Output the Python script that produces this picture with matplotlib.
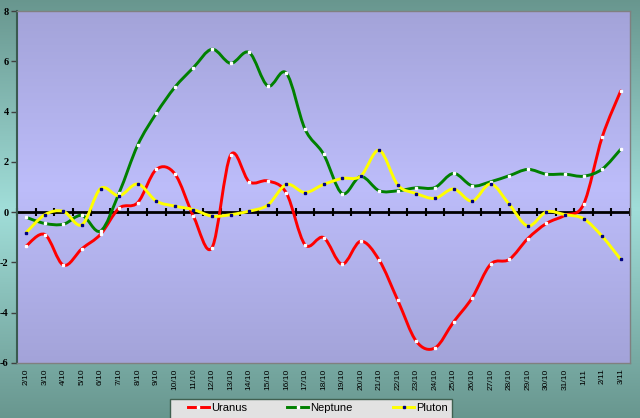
import matplotlib
matplotlib.use("Agg")
import matplotlib.pyplot as plt
import numpy as np
from matplotlib.path import Path
from matplotlib.patches import PathPatch, Rectangle
from matplotlib.lines import Line2D

dates = [f"{d}/10" for d in range(2, 32)] + ["1/11", "2/11", "3/11"]

uranus = [-1.34, -0.89, -2.11, -1.45, -0.88, 0.16, 0.38, 1.70, 1.52, -0.17,
          -1.41, 2.27, 1.21, 1.24, 0.76, -1.29, -1.01, -2.07, -1.16, -1.91,
          -3.51, -5.14, -5.40, -4.37, -3.41, -2.07, -1.88, -1.05, -0.45, -0.13,
          0.31, 2.98, 4.82]
neptune = [-0.21, -0.45, -0.48, -0.13, -0.75, 0.77, 2.67, 3.93, 4.97, 5.75,
           6.48, 5.92, 6.35, 5.02, 5.53, 3.31, 2.31, 0.74, 1.42, 0.85,
           0.85, 0.97, 0.98, 1.54, 1.05, 1.21, 1.45, 1.70, 1.51, 1.51,
           1.43, 1.71, 2.50]
pluton = [-0.81, -0.10, 0.03, -0.50, 0.94, 0.65, 1.12, 0.44, 0.24, 0.10,
          -0.16, -0.10, 0.04, 0.28, 1.10, 0.78, 1.10, 1.34, 1.43, 2.46,
          1.08, 0.74, 0.55, 0.92, 0.44, 1.12, 0.31, -0.55, 0.01, -0.10,
          -0.26, -0.96, -1.88]

series = [("Uranus", uranus, "#ff0000", "white"),
          ("Neptune", neptune, "#008000", "white"),
          ("Pluton", pluton, "#ffff00", "#000080")]


def smooth_path(xs, ys):
    # excel style smoothed line: bezier with catmull-rom control points
    pts = np.column_stack([xs, ys]).astype(float)
    n = len(pts)
    verts = [pts[0]]
    codes = [Path.MOVETO]
    for i in range(n - 1):
        p0 = pts[max(i - 1, 0)]
        p1 = pts[i]
        p2 = pts[i + 1]
        p3 = pts[min(i + 2, n - 1)]
        c1 = p1 + (p2 - p0) / 6.0
        c2 = p2 - (p3 - p1) / 6.0
        verts += [c1, c2, p2]
        codes += [Path.CURVE4] * 3
    return Path(verts, codes)


fig = plt.figure(figsize=(6.4, 4.18), dpi=100)

# background gradients
dark = np.array([0.41, 0.59, 0.56])
light = np.array([0.63, 0.87, 0.85])
t = np.abs(np.linspace(-1, 1, 200))[:, None]
bg = dark * t[..., None] + light * (1 - t[..., None])
ax_bg = fig.add_axes([0, 0, 1, 1], zorder=-2)
ax_bg.imshow(bg, aspect="auto", extent=[0, 1, 0, 1])
ax_bg.axis("off")

ax = fig.add_axes([17 / 640, 1 - 363 / 418, 613 / 640, 352 / 418])
pdark = np.array([0.64, 0.64, 0.85])
plight = np.array([0.74, 0.74, 0.98])
pg = pdark * t[..., None] + plight * (1 - t[..., None])
ax.imshow(pg, aspect="auto", extent=[0, 1, 0, 1], transform=ax.transAxes, zorder=0)

x = np.arange(len(dates))
ax.set_xlim(-0.5, len(dates) - 0.5)
ax.set_ylim(-6, 8)

# zero axis with crossing ticks at category boundaries
ax.axhline(0, color="black", lw=2, zorder=2)
bounds = np.arange(len(dates) + 1) - 0.5
ax.plot(bounds, np.zeros_like(bounds), ls="none", marker="|", ms=5.5, mew=1.5,
        color="black", zorder=2, clip_on=False)

handles = []
for name, vals, col, mcol in series:
    patch = PathPatch(smooth_path(x, vals), facecolor="none", edgecolor=col,
                      lw=2.1, capstyle="round", joinstyle="round", zorder=3)
    ax.add_patch(patch)
    ax.plot(x, vals, ls="none", marker="s", ms=2.1, mfc=mcol, mec=mcol, zorder=4)
    handles.append(Line2D([], [], color=col, lw=2.1, marker="s", ms=2.1,
                          mfc=mcol, mec=mcol))

ax.set_xticks(x)
ax.set_xticklabels(dates, rotation=90, fontsize=6, family="Liberation Sans")
ax.tick_params(axis="x", length=0, pad=4)
ax.set_yticks(np.arange(-6, 9, 2))
ax.set_yticklabels([str(v) for v in range(-6, 9, 2)], fontsize=7.5,
                   family="Liberation Serif", fontweight="bold")
ax.tick_params(axis="y", length=4, width=1, color="#404040", pad=2)

for s in ["top", "right", "bottom"]:
    ax.spines[s].set_color("#808080")
    ax.spines[s].set_linewidth(1)
ax.spines["left"].set_color("#3a5a50")
ax.spines["left"].set_linewidth(1.5)

# legend box, cut off by the figure bottom
fig.patches.append(Rectangle((170 / 640, -0.05), 282 / 640, 0.05 + 19 / 418,
                             transform=fig.transFigure, facecolor="#e2e2e2",
                             edgecolor="#406050", lw=1, zorder=5))
fig.legend(handles, [s[0] for s in series], loc="center", ncol=3,
           bbox_to_anchor=(318 / 640, 1 - 408 / 418), frameon=False,
           handlelength=1.9, handletextpad=0.2, columnspacing=3.6,
           prop={"family": "Liberation Sans", "size": 8})

fig.savefig("out.png", dpi=100)
